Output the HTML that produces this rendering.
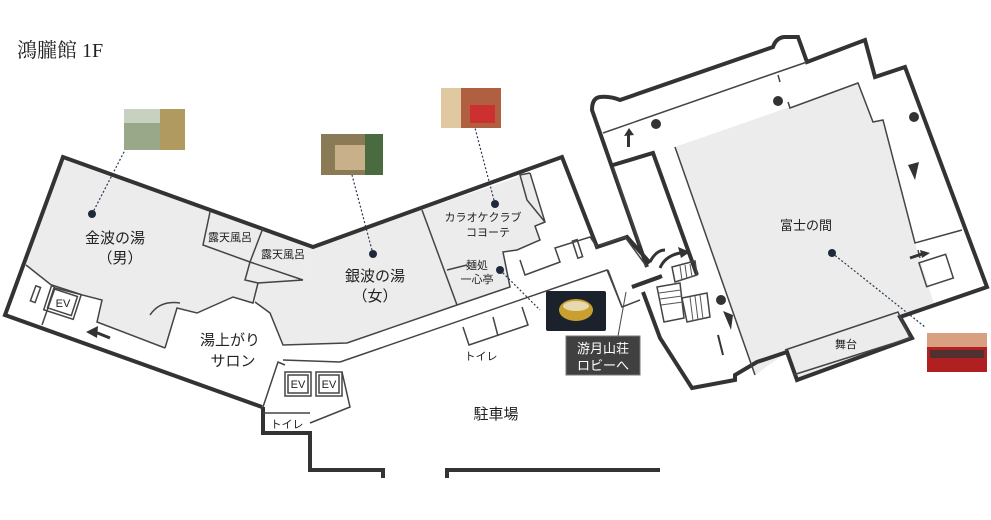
<!DOCTYPE html>
<html><head><meta charset="utf-8"><style>
body{margin:0;background:#fff;width:991px;height:520px;overflow:hidden}
svg{display:block}
text{font-family:"Liberation Sans","Noto Sans CJK JP",sans-serif;fill:#222}
</style></head><body>
<svg width="991" height="520" viewBox="0 0 991 520" xmlns="http://www.w3.org/2000/svg">
<text x="17" y="57" style="font-family:'Liberation Serif','Noto Serif CJK SC',serif;font-size:20px">鴻朧館 1F</text>

<!-- gray fills -->
<polygon fill="#ececec" points="63,157 313,247 303,280 258,283 253,303 233,297 197,313 177,308 165,348 97,322 102,300 55,288 26,265"/>
<polygon fill="#ececec" points="313,247 530,173 545,222 535,226 540,240 517,250 503,252 510,287 457,305 347,343 283,345 270,313 255,302 258,283 303,280"/>
<polygon fill="#ececec" points="675,147 787,108 858,83 873,122 883,120 915,243 935,307 900,317 912,338 797,380 787,352 755,375"/>

<g fill="none" stroke="#333" stroke-width="4" stroke-linejoin="miter">
<polyline points="262,407 5,315 63,157 313,247 562,157 597,247 627,237 650,263"/>
<polyline points="263,407 263,433 310,433 310,470 383,470 383,478"/>
<polyline points="447,478 447,470 660,470"/>
<path d="M647,267 L592,110 Q592,98 600,97 Q610,96 620,100 L773,47 Q776,38 784,37 L798,37 L807,62 L865,40 L875,77 L905,67 L987,287 L900,317 L912,338 L797,380 L787,352 L757,362 L735,375 L735,380 L692,388 L660,338 L643,292"/>
<polyline points="632,287 662,276"/>
<polyline points="613,165 653,153 697,275"/>
</g>

<g fill="none" stroke="#444" stroke-width="1.5">
<!-- left bath internals -->
<polyline points="26,265 55,288 102,300 97,322 165,348"/>
<polyline points="55,288 42,325"/>
<polyline points="165,348 177,308 197,313 233,297 253,303 258,283 303,280"/>
<polyline points="210,212 203,245 250,262"/>
<polyline points="263,228 250,262 245,280 258,283"/>
<polyline points="250,262 303,280"/>
<path d="M150,315 Q160,300 180,303"/>
<rect x="33" y="286" width="5" height="16" transform="rotate(20 35 294)"/>
<rect x="50" y="292" width="25" height="20" transform="rotate(18 62 302)"/>
<rect x="47" y="289" width="31" height="26" transform="rotate(18 62 302)"/>
<!-- women / karaoke -->
<polyline points="422,210 457,305"/>
<polyline points="255,302 270,313 283,345 347,343 457,305 510,287 503,252 517,250 540,240 535,226 545,222 530,173"/>
<polyline points="447,270 467,265"/>
<polyline points="340,362 607,270 622,307 640,300"/>
<polyline points="283,360 340,362"/>
<polyline points="463,327 469,345 528,325 522,307"/>
<line x1="493" y1="317" x2="498" y2="336"/>
<polyline points="520,260 525,275 560,262 555,248 590,237 597,247"/>
<rect x="575" y="240" width="5" height="18" transform="rotate(-18 577 249)"/>
<polyline points="530,173 520,175 527,200 545,222"/>
<!-- EV bottom -->
<rect x="285" y="372" width="26" height="24"/><rect x="288" y="375" width="20" height="18"/>
<rect x="316" y="372" width="26" height="24"/><rect x="319" y="375" width="20" height="18"/>
<polyline points="263,407 278,362 285,365"/>
<polyline points="342,372 350,407 310,423"/>
<line x1="263" y1="413" x2="310" y2="413"/>
<!-- right building internals -->
<polyline points="603,133 778,72 807,62"/>
<line x1="778" y1="75" x2="780" y2="82"/>
<polyline points="788,102 790,108 858,83 873,122 883,120 915,243 962,230"/>
<line x1="918" y1="250" x2="920" y2="258"/>
<polyline points="675,147 755,375"/>
<polyline points="785,350 898,312 910,338 793,375"/>
<rect x="922" y="258" width="28" height="25" transform="rotate(-18 936 270)"/>
<polyline points="600,245 625,237 647,267"/>
<polyline points="608,270 622,307"/>
<line x1="613" y1="167" x2="640" y2="245"/>
<polygon points="672,267 695,261 697,275 675,282"/>
<polygon points="657,287 680,283 684,318 664,322"/>
<polygon points="682,298 707,293 710,317 687,322"/>
</g>
<g stroke="#555" stroke-width="1">
<line x1="680" y1="266" x2="682" y2="280"/><line x1="685" y1="265" x2="687" y2="279"/><line x1="690" y1="264" x2="692" y2="277"/>
<line x1="659" y1="293" x2="681" y2="290"/><line x1="660" y1="299" x2="682" y2="296"/><line x1="661" y1="305" x2="683" y2="302"/>
<line x1="690" y1="297" x2="693" y2="321"/><line x1="695" y1="296" x2="698" y2="320"/><line x1="700" y1="295" x2="703" y2="319"/>
</g>
<line x1="632" y1="287" x2="660" y2="277" stroke="#333" stroke-width="4"/>
<path d="M650,262 Q656,250 665,250" fill="none" stroke="#333" stroke-width="3"/>
<path d="M660,268 Q665,256 680,253" fill="none" stroke="#333" stroke-width="3"/>
<polygon points="678,247 681,258 690,252" fill="#333"/>
<line x1="718" y1="335" x2="723" y2="355" stroke="#333" stroke-width="2"/>

<!-- columns / arrows -->
<g fill="#333">
<circle cx="656" cy="124" r="5"/><circle cx="778" cy="101" r="5"/><circle cx="914" cy="117" r="5"/><circle cx="721" cy="300" r="5"/>
<polygon points="624,136 629,128 634,135"/><rect x="627" y="134" width="3" height="13"/>
<polygon points="908,165 919,162 915,180"/><polygon points="723,311 733,315 731,330"/>
<polygon points="86,332 98,326 97,338"/><line x1="95" y1="332" x2="110" y2="338" stroke="#333" stroke-width="3"/>
<polygon points="930,253 920,250 922,258"/><line x1="910" y1="258" x2="922" y2="254" stroke="#333" stroke-width="3"/>
</g>

<!-- dots and dotted leaders -->
<g stroke="#2a3a50" stroke-width="1.2" stroke-dasharray="2,2" fill="none">
<line x1="92" y1="214" x2="125" y2="150"/>
<line x1="373" y1="254" x2="352" y2="175"/>
<line x1="495" y1="204" x2="475" y2="128"/>
<line x1="500" y1="270" x2="540" y2="310"/>
<line x1="832" y1="253" x2="925" y2="327"/>
</g>
<g fill="#1e2a3c">
<circle cx="92" cy="214" r="4"/><circle cx="373" cy="254" r="4"/><circle cx="495" cy="204" r="4"/><circle cx="500" cy="270" r="4"/><circle cx="832" cy="253" r="4"/>
</g>
<line x1="626" y1="292" x2="618" y2="336" stroke="#444" stroke-width="1"/>

<!-- photos -->
<rect x="124" y="109" width="61" height="41" fill="#9aa88a"/><rect x="124" y="109" width="61" height="14" fill="#c8d0c0"/><rect x="160" y="109" width="25" height="41" fill="#b09a60"/>
<rect x="321" y="134" width="62" height="41" fill="#8a7a55"/><rect x="335" y="145" width="30" height="25" fill="#c8b08a"/><rect x="365" y="134" width="18" height="41" fill="#4a6a40"/>
<rect x="441" y="88" width="60" height="40" fill="#b06040"/><rect x="441" y="88" width="20" height="40" fill="#e0c8a0"/><rect x="470" y="105" width="25" height="18" fill="#cc3030"/>
<rect x="546" y="291" width="60" height="40" rx="2" fill="#1c222c"/><ellipse cx="576" cy="310" rx="17" ry="11" fill="#c8a030"/><ellipse cx="576" cy="306" rx="13" ry="5" fill="#e8d8b0"/>
<rect x="927" y="333" width="60" height="39" fill="#b02020"/><rect x="927" y="333" width="60" height="14" fill="#d8a080"/><rect x="930" y="350" width="54" height="8" fill="#503030"/>
<rect x="566" y="336" width="74" height="39" fill="#404040" stroke="#777" stroke-width="1"/>
<text x="603" y="353" text-anchor="middle" style="font-size:13px;fill:#fff">游月山荘</text>
<text x="603" y="370" text-anchor="middle" style="font-size:13px;fill:#fff">ロビーへ</text>

<!-- labels -->
<g style="font-size:15px" text-anchor="middle">
<text x="115" y="243">金波の湯</text><text x="120" y="263">（男）</text>
<text x="375" y="281">銀波の湯</text><text x="375" y="301">（女）</text>
<text x="230" y="345">湯上がり</text><text x="233" y="366">サロン</text>
<text x="496" y="419">駐車場</text>
</g>
<g style="font-size:11px" text-anchor="middle">
<text x="230" y="241">露天風呂</text><text x="283" y="258">露天風呂</text>
<text x="483" y="221">カラオケクラブ</text><text x="488" y="236">コヨーテ</text>
<text x="477" y="269">麺処</text><text x="477" y="283">一心亭</text>
<text x="481" y="360">トイレ</text>
<text x="806" y="230" style="font-size:13px">富士の間</text>
<text x="846" y="348">舞台</text>
<text x="287" y="428">トイレ</text>
<text x="298" y="388">EV</text><text x="329" y="388">EV</text>
<text x="63" y="307">EV</text>
</g>
</svg>
</body></html>
